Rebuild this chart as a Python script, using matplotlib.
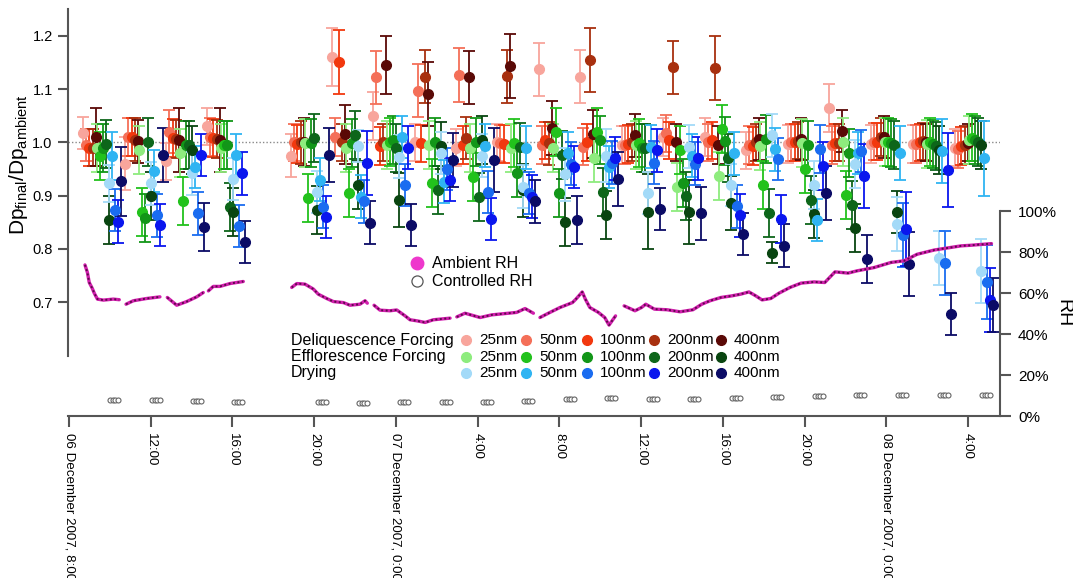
import datetime as dt
import numpy as np
import matplotlib
matplotlib.use("Agg")
import matplotlib.pyplot as plt
import matplotlib.dates as mdates

plt.rcParams['font.family'] = ['Liberation Sans', 'DejaVu Sans']
plt.rcParams['mathtext.default'] = 'regular'

# ---- data -------------------------------------------------------------
T0 = dt.datetime(2007, 12, 6, 8, 0)   # hours below are counted from here

sizes = ["25nm", "50nm", "100nm", "200nm", "400nm"]

# time of the controlled-RH step of each cycle (hours after T0)
cycle_hours = [2.20, 4.26, 6.27, 8.27, 12.38, 14.39, 16.40, 18.45, 20.46, 22.47,
               24.52, 26.53, 28.58, 30.59, 32.65, 34.66, 36.71, 38.71, 40.77,
               42.83, 44.88]

# measurement schedule inside a cycle (minutes relative to controlled-RH step)
deliq_offsets = [-91, -82, -72, -62, -53]
effl_offsets = [-50, -41, -32, -24, -15]
dry_offsets = [-15, -6, 3, 12, 21]

# Dp_final/Dp_ambient, one row per cycle, columns = sizes
deliq_vals = [
    [1.017, 0.995, 0.990, 0.990, 1.010],
    [0.960, 1.010, 1.010, 1.005, 1.002],
    [0.964, 1.020, 1.008, 1.006, 1.004],
    [1.030, 1.010, 1.008, 1.006, 1.004],
    [0.975, 1.000, 0.997, 1.000, 1.000],
    [1.160, 1.010, 1.150, 1.000, 1.015],
    [1.050, 1.122, 0.993, 1.000, 1.145],
    [1.000, 1.097, 0.998, 1.123, 1.090],
    [0.990, 1.126, 0.995, 1.008, 1.122],
    [1.000, 0.998, 0.997, 1.124, 1.143],
    [1.137, 0.995, 1.004, 0.998, 1.027],
    [1.123, 0.992, 1.000, 1.155, 1.016],
    [0.995, 0.995, 0.997, 1.000, 1.013],
    [1.010, 1.017, 1.004, 1.141, 1.000],
    [1.010, 1.000, 1.004, 1.140, 0.995],
    [0.985, 0.995, 0.993, 1.000, 1.006],
    [0.997, 1.000, 1.000, 1.003, 1.006],
    [1.064, 0.995, 0.999, 0.999, 1.021],
    [0.997, 1.001, 1.001, 1.010, 1.010],
    [0.997, 0.997, 1.000, 1.002, 1.000],
    [0.990, 0.987, 0.993, 0.995, 0.999],
]
deliq_errs = [
    [0.030, 0.030, 0.035, 0.035, 0.055],
    [0.050, 0.035, 0.035, 0.040, 0.040],
    [0.035, 0.040, 0.035, 0.035, 0.060],
    [0.035, 0.035, 0.035, 0.035, 0.060],
    [0.040, 0.035, 0.035, 0.040, 0.045],
    [0.055, 0.035, 0.060, 0.035, 0.055],
    [0.045, 0.050, 0.035, 0.035, 0.055],
    [0.035, 0.050, 0.035, 0.050, 0.060],
    [0.035, 0.050, 0.035, 0.040, 0.050],
    [0.035, 0.035, 0.035, 0.050, 0.060],
    [0.050, 0.035, 0.035, 0.040, 0.050],
    [0.050, 0.035, 0.035, 0.060, 0.045],
    [0.035, 0.035, 0.035, 0.035, 0.040],
    [0.035, 0.035, 0.035, 0.050, 0.035],
    [0.035, 0.035, 0.035, 0.060, 0.035],
    [0.035, 0.035, 0.035, 0.035, 0.040],
    [0.035, 0.035, 0.035, 0.035, 0.040],
    [0.045, 0.035, 0.035, 0.035, 0.040],
    [0.035, 0.035, 0.035, 0.035, 0.040],
    [0.035, 0.035, 0.035, 0.035, 0.035],
    [0.035, 0.035, 0.035, 0.035, 0.035],
]
effl_vals = [
    [0.990, 0.975, 0.990, 0.996, 0.855],
    [0.985, 0.869, 0.858, 1.000, 0.900],
    [0.980, 0.890, 0.995, 0.995, 0.986],
    [0.990, 0.995, 0.995, 0.879, 0.870],
    [0.998, 0.895, 0.998, 1.008, 0.873],
    [0.990, 0.905, 0.998, 1.014, 0.920],
    [0.995, 1.000, 1.004, 0.990, 0.892],
    [0.995, 0.924, 1.000, 0.910, 0.994],
    [0.990, 0.935, 1.000, 0.898, 1.004],
    [0.990, 0.998, 0.942, 0.992, 0.910],
    [0.990, 1.020, 0.905, 0.976, 0.851],
    [0.970, 1.020, 1.005, 0.907, 0.864],
    [0.995, 0.998, 0.990, 0.990, 0.870],
    [0.917, 0.985, 0.924, 0.900, 0.870],
    [0.937, 1.025, 1.003, 0.971, 0.886],
    [0.993, 0.920, 1.006, 0.867, 0.793],
    [0.998, 0.950, 0.995, 0.892, 0.865],
    [1.001, 0.901, 0.980, 0.882, 0.839],
    [1.000, 1.001, 0.998, 0.995, 0.869],
    [0.997, 1.001, 0.997, 0.993, 0.985],
    [1.005, 1.009, 1.005, 1.001, 0.995],
]
effl_errs = [
    [0.045, 0.045, 0.045, 0.045, 0.045],
    [0.045, 0.045, 0.045, 0.045, 0.045],
    [0.045, 0.045, 0.045, 0.045, 0.045],
    [0.045, 0.045, 0.045, 0.045, 0.045],
    [0.045, 0.045, 0.045, 0.045, 0.045],
    [0.045, 0.045, 0.045, 0.045, 0.045],
    [0.045, 0.045, 0.045, 0.045, 0.050],
    [0.045, 0.045, 0.045, 0.045, 0.045],
    [0.045, 0.045, 0.045, 0.045, 0.045],
    [0.045, 0.045, 0.045, 0.045, 0.050],
    [0.045, 0.045, 0.045, 0.045, 0.045],
    [0.045, 0.045, 0.045, 0.045, 0.045],
    [0.045, 0.045, 0.045, 0.045, 0.070],
    [0.045, 0.045, 0.045, 0.045, 0.060],
    [0.045, 0.045, 0.045, 0.045, 0.050],
    [0.045, 0.045, 0.045, 0.045, 0.020],
    [0.045, 0.045, 0.045, 0.045, 0.045],
    [0.045, 0.045, 0.045, 0.045, 0.045],
    [0.045, 0.045, 0.045, 0.045, 0.040],
    [0.045, 0.045, 0.045, 0.045, 0.045],
    [0.045, 0.045, 0.045, 0.045, 0.045],
]
dry_vals = [
    [0.923, 0.974, 0.873, 0.851, 0.927],
    [0.923, 0.946, 0.863, 0.845, 0.976],
    [0.942, 0.954, 0.867, 0.976, 0.842],
    [0.931, 0.976, 0.843, 0.942, 0.813],
    [0.907, 0.930, 0.879, 0.860, 0.976],
    [0.993, 0.898, 0.889, 0.961, 0.849],
    [0.973, 1.010, 0.920, 0.990, 0.845],
    [0.980, 0.926, 0.950, 0.930, 0.967],
    [0.975, 0.994, 0.907, 0.856, 0.967],
    [0.917, 0.990, 0.905, 0.898, 0.889],
    [0.940, 0.980, 0.960, 0.954, 0.854],
    [0.975, 0.954, 0.962, 0.970, 0.931],
    [0.905, 0.992, 0.962, 0.985, 0.875],
    [0.992, 0.975, 0.960, 0.970, 0.867],
    [0.920, 0.979, 0.880, 0.863, 0.828],
    [1.013, 0.987, 0.969, 0.857, 0.806],
    [0.920, 0.854, 0.987, 0.955, 0.905],
    [0.960, 0.980, 0.984, 0.937, 0.781],
    [0.847, 0.980, 0.826, 0.837, 0.772],
    [0.783, 0.984, 0.774, 0.948, 0.678],
    [0.758, 0.970, 0.738, 0.704, 0.695],
]
dry_errs = [
    [0.035, 0.045, 0.040, 0.040, 0.065],
    [0.040, 0.040, 0.040, 0.040, 0.050],
    [0.040, 0.040, 0.040, 0.040, 0.045],
    [0.040, 0.040, 0.040, 0.040, 0.040],
    [0.040, 0.040, 0.040, 0.040, 0.050],
    [0.030, 0.040, 0.040, 0.060, 0.040],
    [0.040, 0.040, 0.040, 0.040, 0.040],
    [0.040, 0.040, 0.040, 0.040, 0.050],
    [0.040, 0.040, 0.040, 0.040, 0.060],
    [0.040, 0.040, 0.040, 0.040, 0.040],
    [0.050, 0.040, 0.040, 0.040, 0.045],
    [0.050, 0.040, 0.040, 0.040, 0.050],
    [0.040, 0.040, 0.040, 0.040, 0.040],
    [0.040, 0.040, 0.040, 0.040, 0.050],
    [0.040, 0.040, 0.040, 0.040, 0.040],
    [0.040, 0.040, 0.040, 0.045, 0.040],
    [0.045, 0.040, 0.045, 0.045, 0.050],
    [0.045, 0.040, 0.040, 0.060, 0.045],
    [0.050, 0.050, 0.060, 0.070, 0.060],
    [0.050, 0.060, 0.060, 0.070, 0.040],
    [0.060, 0.070, 0.070, 0.060, 0.050],
]

# ambient RH trace (hours after T0, %); None = gap in the record
rh_hours = [0.78, 0.90, 0.99, 1.14, 1.24, 1.39, 1.68, 2.17, 2.46, None,
            2.79, 3.15, 3.80, 4.45, None, 4.81, 5.27, 5.76, 6.25, 6.57, None,
            6.82, 7.06, 7.39, 7.88, 8.53, None,
            10.90, 11.15, 11.55, 11.96, 12.20, 12.61, 12.94, 13.43, 13.75,
            14.24, 14.49, 14.60, None, 14.93, 15.22, 15.71, 16.04, 16.45,
            16.69, 17.02, 17.43, 17.83, 18.65, None, 18.98, 19.38, 20.12,
            20.69, 21.10, 21.91, 22.32, 22.73, None, 23.05, 23.54, 24.03,
            24.64, 24.81, 25.12, 25.27, 25.49, 25.91, 26.22, 26.43, 26.75,
            None, 27.17, 27.70, 28.02, 28.23, 28.65, 29.27, 29.91, 30.54,
            30.97, 31.38, 31.91, 32.45, 32.87, 33.28, 33.61, 33.92, 34.35,
            34.75, 35.29, 35.83, 36.46, 36.99, 37.49, 38.13, 38.57, 39.40,
            40.23, 40.87, 41.51, 42.36, 43.66, 44.15, 45.15]
rh_vals = [73.8, 70.1, 65.2, 62.3, 59.9, 57.1, 56.6, 57.1, 56.8, None,
           54.6, 56.3, 57.4, 58.2, None, 57.9, 54.1, 55.9, 58.2, 60.3, None,
           61.1, 63.3, 63.3, 64.7, 65.7, None,
           62.8, 64.7, 64.4, 62.0, 59.5, 57.4, 55.9, 55.4, 54.1,
           54.6, 56.3, 55.1, None, 54.1, 51.7, 51.4, 51.8, 48.9,
           47.0, 46.5, 45.7, 47.0, 47.8, None, 48.4, 50.2, 48.1,
           49.4, 49.8, 50.6, 52.5, 50.2, None, 48.1, 50.6, 53.0,
           55.4, 57.1, 60.6, 57.1, 53.0, 50.6, 48.1, 44.4, 48.9,
           None, 53.8, 51.4, 53.0, 54.6, 52.2, 51.9, 50.9, 51.9,
           54.6, 56.3, 57.9, 58.7, 59.5, 60.6, 58.7, 56.7, 57.4,
           60.0, 62.8, 64.9, 65.5, 65.2, 70.4, 69.8, 70.9, 72.5,
           75.0, 75.8, 79.0, 81.1, 83.1, 83.4, 84.2]

# controlled RH level at each cycle (%)
ctrl_rh = [7.8, 7.8, 7.5, 7.0, 6.7, 6.2, 6.6, 6.8, 6.8, 7.1, 8.1, 8.6, 8.4,
           8.4, 8.8, 9.1, 9.8, 10.1, 10.2, 10.4, 10.4]
ctrl_offsets = [-12, -4, 4, 12]   # minutes, the 4 samples of one step

tick_hours = [0, 4, 8, 12, 16, 20, 24, 28, 32, 36, 40, 44]
tick_labels = ["06 December 2007, 8:00", "12:00", "16:00", "20:00",
               "07 December 2007, 0:00", "4:00", "8:00", "12:00", "16:00",
               "20:00", "08 December 2007, 0:00", "4:00"]

deliq_colors = ['#f8a59c', '#f46f58', '#f2380e', '#a8300f', '#5a0906']
effl_colors = ['#8eec7e', '#22c21c', '#129618', '#0d661a', '#094510']
dry_colors = ['#a3daf8', '#2fb4f2', '#1a6cf0', '#0a16ee', '#0b0b66']


def when(h, m=0.0):
    return mdates.date2num(T0 + dt.timedelta(hours=h, minutes=m))


# ---- figure -----------------------------------------------------------
W, H = 1073, 578
fig = plt.figure(figsize=(W / 100, H / 100), dpi=100)
ax = fig.add_axes([68 / W, 1 - 416 / H, 932 / W, 407 / H])
ax2 = ax.twinx()
axis_col = '#555555'

ax.set_xlim(when(0, -3), when(45, 34))
ax.set_ylim(0.4865, 1.2501)
ax2.set_ylim(0, 198.8)

for a in (ax, ax2):
    for s in a.spines.values():
        s.set_visible(False)
        s.set_color(axis_col)
        s.set_linewidth(1.5)
ax.spines['left'].set_visible(True)
ax.spines['left'].set_bounds(0.6, 1.25)
ax.spines['bottom'].set_visible(True)
ax2.spines['right'].set_visible(True)
ax2.spines['right'].set_bounds(0, 100)

ax.axhline(1.0, color='#8a8a8a', ls=(0, (1, 1.5)), lw=1.0, zorder=0)

groups = [(deliq_vals, deliq_errs, deliq_offsets, deliq_colors),
          (effl_vals, effl_errs, effl_offsets, effl_colors),
          (dry_vals, dry_errs, dry_offsets, dry_colors)]
for vals, errs, offs, cols in groups:
    vals = np.array(vals)
    errs = np.array(errs)
    for j in range(len(sizes)):
        t = [when(h, offs[j]) for h in cycle_hours]
        ax.errorbar(t, vals[:, j], yerr=errs[:, j], fmt='o', color=cols[j],
                    ms=7, mec=cols[j], elinewidth=1.3, capsize=4.5,
                    capthick=1.3, zorder=2)

# RH traces on the right axis
rh_t = [when(h) if h is not None else np.nan for h in rh_hours]
rh_y = [v if v is not None else np.nan for v in rh_vals]
ax2.plot(rh_t, rh_y, color='#d21fae', lw=2.4, solid_capstyle='round', zorder=3)
ax2.plot(rh_t, rh_y, color='#5c0c4a', lw=1.4, ls=(0, (1, 1.3)), zorder=4)

ct = [when(h, m) for h in cycle_hours for m in ctrl_offsets]
cv = [r for r in ctrl_rh for m in ctrl_offsets]
ax2.plot(ct, cv, 'o', ms=3.6, mfc='white', mec='#666666', mew=0.8, zorder=4)

# ticks
ax.set_xticks([when(h) for h in tick_hours])
ax.set_xticklabels(tick_labels, rotation=-90, fontsize=9.6)
ax.tick_params(axis='x', length=8, width=1.5, color=axis_col, pad=4)
ax.set_yticks([0.7, 0.8, 0.9, 1.0, 1.1, 1.2])
ax.set_yticklabels(["0.7", "0.8", "0.9", "1.0", "1.1", "1.2"])
ax.tick_params(axis='y', length=7, width=1.5, color=axis_col, labelsize=10.5,
               pad=4)
ax2.set_yticks([0, 20, 40, 60, 80, 100])
ax2.set_yticklabels(["0%", "20%", "40%", "60%", "80%", "100%"])
ax2.tick_params(axis='y', length=8, width=1.5, color=axis_col, labelsize=11,
                pad=5)

fig.text(19 / W, 1 - 165 / H, r'Dp$_{final}$/Dp$_{ambient}$', rotation=90,
         fontsize=15, ha='center', va='center')
fig.text(1063 / W, 1 - 313 / H, 'RH', rotation=-90, fontsize=14,
         ha='center', va='center')

# legends drawn in figure pixels
def fx(x):
    return x / W


def fy(y):
    return 1 - y / H


fig.add_artist(plt.Line2D([fx(417)], [fy(263)], marker='o', ms=9,
                          mfc='#ee38cc', mec='#ee38cc', ls='none'))
fig.add_artist(plt.Line2D([fx(417)], [fy(281)], marker='o', ms=8,
                          mfc='white', mec='#555555', mew=0.9, ls='none'))
fig.text(fx(432), fy(263), 'Ambient RH', fontsize=11.5, va='center')
fig.text(fx(432), fy(281), 'Controlled RH', fontsize=11.5, va='center')

row_names = ["Deliquescence Forcing", "Efflorescence Forcing", "Drying"]
row_y = [340, 357, 373]
mark_x = [466, 526, 587, 654, 721]
for name, y, (_, _, _, cols) in zip(row_names, row_y, groups):
    fig.text(fx(291), fy(y), name, fontsize=11.5, va='center')
    for xm, c, lab in zip(mark_x, cols, sizes):
        fig.add_artist(plt.Line2D([fx(xm)], [fy(y)], marker='o', ms=7,
                                  mfc=c, mec=c, ls='none'))
        fig.text(fx(xm + 13), fy(y), lab, fontsize=11, va='center')

fig.savefig('out.png', dpi=100)
